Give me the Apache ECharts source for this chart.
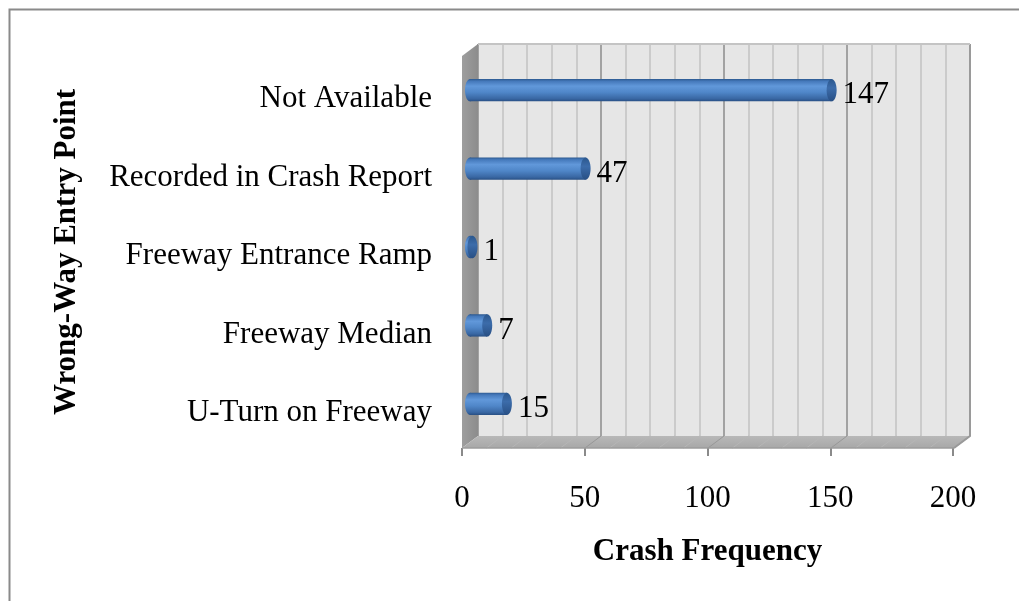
<!DOCTYPE html>
<html>
<head>
<meta charset="utf-8">
<script src="https://cdn.jsdelivr.net/npm/echarts@6/dist/echarts.min.js"></script>
<style>
  html, body { margin: 0; padding: 0; background: #fff; }
  #chart { width: 1019px; height: 601px; }
</style>
</head>
<body>
<div id="chart"></div>
<script>
// Wrong-way crash entry points (bottom to top on the category axis)
const categories = ['U-Turn on Freeway', 'Freeway Median', 'Freeway Entrance Ramp', 'Recorded in Crash Report', 'Not Available'];
const crashCounts = [15, 7, 1, 47, 147];
const valueTicks = [0, 50, 100, 150, 200];

const FONT = '"Liberation Serif", "Times New Roman", serif';
const FONT_SIZE = 31;
// depth of the 3D box: offset from the front plane to the back wall
const DEPTH_X = 16, DEPTH_Y = -12;

const chart = echarts.init(document.getElementById('chart'), null, { renderer: 'canvas' });

// floor and side wall of the 3D box, drawn from the back grid rectangle
function renderBox(params, api) {
  const cs = params.coordSys;
  const x0 = cs.x, y0 = cs.y, x1 = cs.x + cs.width, y1 = cs.y + cs.height;
  const fx = -DEPTH_X, fy = -DEPTH_Y;
  const children = [];
  // side wall
  children.push({
    type: 'polygon',
    shape: { points: [[x0 + fx, y0 + fy], [x0, y0], [x0, y1], [x0 + fx, y1 + fy]] },
    style: { fill: new echarts.graphic.LinearGradient(0, 0, 1, 0, [
      { offset: 0, color: '#9e9e9e' }, { offset: 1, color: '#8c8c8c' }]) }
  });
  // floor
  children.push({
    type: 'polygon',
    shape: { points: [[x0 + fx, y1 + fy], [x0, y1], [x1, y1], [x1 + fx, y1 + fy]] },
    style: { fill: new echarts.graphic.LinearGradient(0, 0, 0, 1, [
      { offset: 0, color: '#b8b8b8' }, { offset: 1, color: '#a8a8a8' }]) }
  });
  // gridlines carried across the floor
  const step = api.size([10, 0])[0];
  for (let i = 1; i <= 20; i++) {
    const gx = x0 + i * step;
    children.push({
      type: 'line',
      shape: { x1: gx, y1: y1, x2: gx + fx, y2: y1 + fy },
      style: { stroke: i % 5 === 0 ? '#979797' : '#b6b6b6', lineWidth: 1 }
    });
  }
  // floor front edge
  children.push({
    type: 'line',
    shape: { x1: x0 + fx, y1: y1 + fy, x2: x1 + fx, y2: y1 + fy },
    style: { stroke: '#9c9c9c', lineWidth: 1.5 }
  });
  // right wall edge
  children.push({
    type: 'polyline',
    shape: { points: [[x1, y0], [x1, y1], [x1 + fx, y1 + fy]] },
    style: { stroke: '#9a9a9a', lineWidth: 2, fill: null }
  });
  // top wall edge
  children.push({
    type: 'line',
    shape: { x1: x0, y1: y0, x2: x1, y2: y0 },
    style: { stroke: '#c4c4c4', lineWidth: 2 }
  });
  return { type: 'group', children: children };
}

// horizontal cylinders standing halfway into the box depth
function renderBar(params, api) {
  const value = api.value(0);
  const cat = api.value(1);
  const start = api.coord([0, cat]);
  const end = api.coord([value, cat]);
  const band = api.size([0, 1])[1];
  const h = band * 0.285;
  const dx = -DEPTH_X / 2, dy = -DEPTH_Y / 2;
  const xs = start[0] + dx, xe = end[0] + dx, yc = start[1] + dy + 1;
  const rx = 5;
  const bodyFill = new echarts.graphic.LinearGradient(0, 0, 0, 1, [
    { offset: 0, color: '#2c5990' },
    { offset: 0.1, color: '#4579bb' },
    { offset: 0.32, color: '#6198da' },
    { offset: 0.6, color: '#4f86c8' },
    { offset: 0.88, color: '#3967a3' },
    { offset: 1, color: '#284f84' }
  ]);
  const children = [
    { type: 'ellipse', shape: { cx: xs, cy: yc, rx: rx, ry: h / 2 }, style: { fill: bodyFill } },
    { type: 'rect', shape: { x: xs, y: yc - h / 2, width: Math.max(xe - xs, 0), height: h }, style: { fill: bodyFill } },
    { type: 'ellipse', shape: { cx: xe, cy: yc, rx: rx, ry: h / 2 }, style: {
      fill: new echarts.graphic.LinearGradient(0, 0, 0, 1, [
        { offset: 0, color: '#2b578d' }, { offset: 0.4, color: '#3c6caa' }, { offset: 1, color: '#284f84' }]) } },
    { type: 'text', x: xe + rx + 6, y: yc + 5, style: {
      text: String(value), font: FONT_SIZE + 'px ' + FONT, fill: '#000', textAlign: 'left', textVerticalAlign: 'middle' } }
  ];
  return { type: 'group', children: children };
}

const option = {
  backgroundColor: '#fff',
  animation: false,
  graphic: [{
    type: 'rect', left: 7, top: 7,
    shape: { width: 1040, height: 620 },
    style: { fill: null, stroke: '#8a8a8a', lineWidth: 2 }, silent: true
  }],
  grid: [
    // back wall
    { left: 478, right: 49, top: 44, bottom: 165, show: true, backgroundColor: '#e6e6e6', borderWidth: 0 },
    // front plane carrying the value axis
    { left: 462, right: 66, top: 56, bottom: 153 },
    // category label band
    { left: 462, right: 66, top: 60, bottom: 149 }
  ],
  xAxis: [
    {
      gridIndex: 0, type: 'value', min: 0, max: 200, interval: 10,
      axisLine: { show: false }, axisTick: { show: false }, axisLabel: { show: false },
      splitLine: { show: true, lineStyle: { width: 2, color: ['#a2a2a2', '#cbcbcb', '#cbcbcb', '#cbcbcb', '#cbcbcb'] } }
    },
    {
      gridIndex: 1, type: 'value', min: valueTicks[0], max: valueTicks[valueTicks.length - 1], interval: 50,
      axisLine: { show: false },
      axisTick: { show: true, length: 8, lineStyle: { color: '#8a8a8a', width: 2 } },
      splitLine: { show: false },
      axisLabel: { color: '#000', fontFamily: FONT, fontSize: FONT_SIZE, margin: 35 },
      name: 'Crash Frequency', nameLocation: 'middle', nameGap: 88,
      nameTextStyle: { color: '#000', fontFamily: FONT, fontSize: FONT_SIZE, fontWeight: 'bold' }
    },
    {
      gridIndex: 2, type: 'value', min: 0, max: 200, show: false
    }
  ],
  yAxis: [
    {
      gridIndex: 0, type: 'category', data: categories,
      axisLine: { show: false }, axisTick: { show: false }, axisLabel: { show: false }, splitLine: { show: false }
    },
    {
      gridIndex: 1, type: 'category', data: categories,
      axisLine: { show: false }, axisTick: { show: false }, axisLabel: { show: false },
      name: 'Wrong-Way Entry Point', nameLocation: 'middle', nameRotate: 90, nameGap: 380,
      nameTextStyle: { color: '#000', fontFamily: FONT, fontSize: FONT_SIZE, fontWeight: 'bold' }
    },
    {
      gridIndex: 2, type: 'category', data: categories,
      axisLine: { show: false }, axisTick: { show: false }, splitLine: { show: false },
      axisLabel: { color: '#000', fontFamily: FONT, fontSize: FONT_SIZE, margin: 30 }
    }
  ],
  series: [
    {
      type: 'custom', xAxisIndex: 0, yAxisIndex: 0, silent: true, z: 1,
      renderItem: renderBox, data: [[0, 0]]
    },
    {
      type: 'custom', xAxisIndex: 0, yAxisIndex: 0, z: 3,
      renderItem: renderBar,
      encode: { x: 0, y: 1 },
      data: crashCounts.map((v, i) => [v, i])
    }
  ]
};

chart.setOption(option);
</script>
</body>
</html>
